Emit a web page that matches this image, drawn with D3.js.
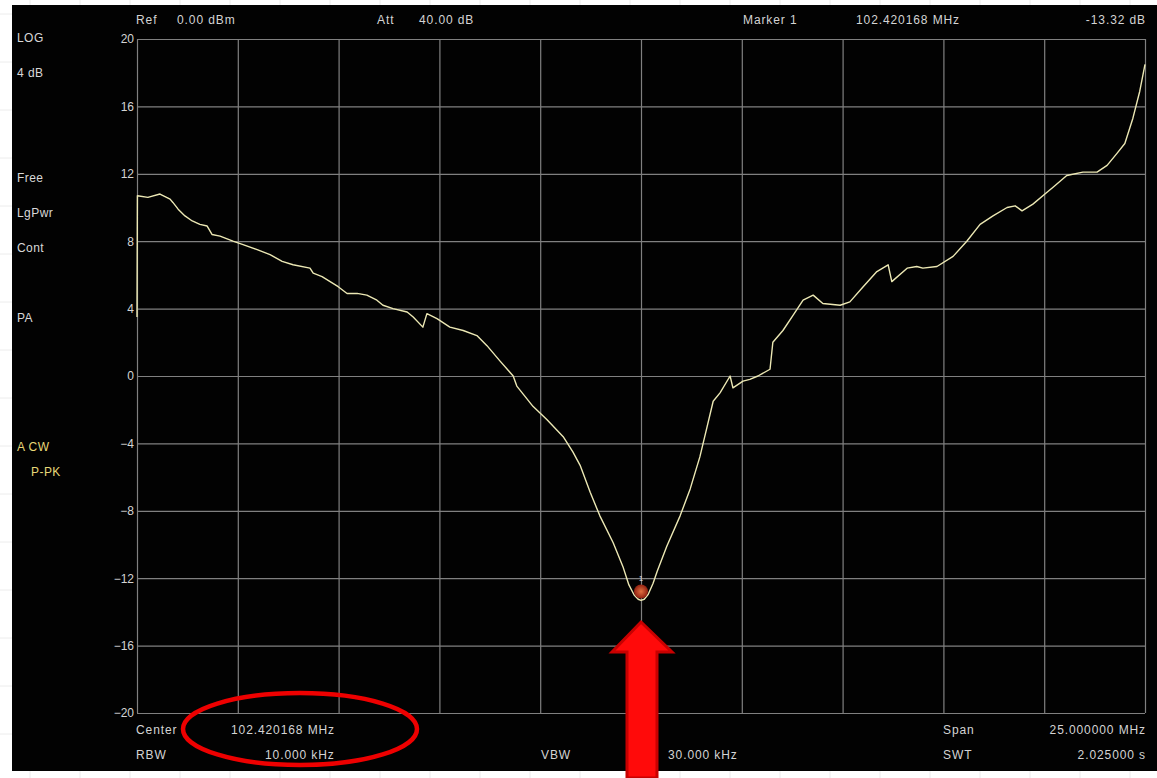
<!DOCTYPE html>
<html>
<head>
<meta charset="utf-8">
<script src="https://cdn.jsdelivr.net/npm/d3@7/dist/d3.min.js"></script>
<style>
  html, body { margin: 0; padding: 0; background: #ffffff; }
  svg { display: block; }
  text { font-family: "Liberation Sans", "DejaVu Sans", sans-serif; }
</style>
</head>
<body>
<svg id="chart" width="1157" height="778"></svg>
<script>
// Sweep settings
const centerMHz = 102.420168;
const spanMHz = 25.0;
const markerDb = -13.32;

// Trace: frequency offset from center (MHz) and level (dB)
const freqOffset = [
  -12.50, -12.49, -12.23, -11.93, -11.68, -11.61, -11.48, -11.31, -11.13, -10.94,
  -10.76, -10.64, -10.44, -10.12, -9.87, -9.52, -9.20, -8.90, -8.63, -8.21,
  -8.13, -7.91, -7.64, -7.51, -7.29, -7.04, -6.80, -6.55, -6.40, -6.15,
  -5.80, -5.65, -5.41, -5.31, -5.06, -4.74, -4.41, -4.07, -3.82, -3.50,
  -3.17, -3.08, -2.68, -2.33, -1.93, -1.69, -1.51, -1.26, -1.02, -0.69,
  -0.45, -0.30, -0.17, -0.07, 0.00, 0.08, 0.18, 0.30, 0.40, 0.64,
  0.97, 1.22, 1.46, 1.64,
  1.79, 1.96, 2.21, 2.28, 2.53, 2.70, 2.90, 3.20, 3.27, 3.52,
  3.77, 4.02, 4.27, 4.51, 4.94, 5.18, 5.51, 5.85, 6.13, 6.22,
  6.60, 6.84, 6.99, 7.34, 7.74, 8.08, 8.41, 8.73, 9.08, 9.28,
  9.45, 9.72, 10.07, 10.22, 10.56, 10.96, 11.31, 11.56, 11.80, 12.00,
  12.20, 12.37, 12.50
];
const traceDb = [
  3.5, 10.7, 10.6, 10.8, 10.5, 10.3, 9.9, 9.5, 9.2, 9.0,
  8.9, 8.4, 8.3, 8.0, 7.8, 7.5, 7.2, 6.8, 6.6, 6.4,
  6.1, 5.9, 5.5, 5.3, 4.9, 4.9, 4.8, 4.5, 4.2, 4.0,
  3.8, 3.5, 2.9, 3.7, 3.4, 2.9, 2.7, 2.4, 1.8, 0.9,
  0.0, -0.6, -1.8, -2.6, -3.6, -4.5, -5.3, -6.9, -8.3, -9.9,
  -11.3, -12.4, -13.0, -13.25, -13.32, -13.25, -12.95, -12.3, -11.6, -10.1,
  -8.3, -6.7, -4.8, -3.0,
  -1.5, -1.0, 0.0, -0.7, -0.3, -0.2, 0.0, 0.4, 2.0, 2.7,
  3.6, 4.5, 4.8, 4.3, 4.2, 4.4, 5.3, 6.2, 6.6, 5.6,
  6.4, 6.5, 6.4, 6.5, 7.1, 8.0, 9.0, 9.5, 10.0, 10.1,
  9.8, 10.2, 10.9, 11.2, 11.9, 12.1, 12.1, 12.5, 13.2, 13.8,
  15.3, 16.9, 18.5
];

// Axis ticks
const yTicks = [20, 16, 12, 8, 4, 0, -4, -8, -12, -16, -20];
const xDivisions = [-12.5, -10, -7.5, -5, -2.5, 0, 2.5, 5, 7.5, 10, 12.5];

// Instrument readouts
const headerLabels = [
  { text: "Ref", x: 136, anchor: "start" },
  { text: "0.00 dBm", x: 177, anchor: "start" },
  { text: "Att", x: 377, anchor: "start" },
  { text: "40.00 dB", x: 419, anchor: "start" },
  { text: "Marker 1", x: 743, anchor: "start" },
  { text: "102.420168 MHz", x: 856, anchor: "start" },
  { text: "-13.32 dB", x: 1146, anchor: "end" }
];
const sideLabels = [
  { text: "LOG", x: 17, y: 38, color: "#d8d8d8" },
  { text: "4 dB", x: 17, y: 73, color: "#d8d8d8" },
  { text: "Free", x: 17, y: 178, color: "#d8d8d8" },
  { text: "LgPwr", x: 17, y: 213, color: "#d8d8d8" },
  { text: "Cont", x: 17, y: 248, color: "#d8d8d8" },
  { text: "PA", x: 17, y: 318, color: "#d8d8d8" },
  { text: "A CW", x: 17, y: 447, color: "#e8d878" },
  { text: "P-PK", x: 31, y: 472, color: "#e8d878" }
];
const footerLabels = [
  { text: "Center", x: 136, y: 730, anchor: "start" },
  { text: "102.420168 MHz", x: 231, y: 730, anchor: "start" },
  { text: "RBW", x: 136, y: 755, anchor: "start" },
  { text: "10.000 kHz", x: 265, y: 755, anchor: "start" },
  { text: "VBW", x: 541, y: 755, anchor: "start" },
  { text: "30.000 kHz", x: 668, y: 755, anchor: "start" },
  { text: "Span", x: 943, y: 730, anchor: "start" },
  { text: "25.000000 MHz", x: 1146, y: 730, anchor: "end" },
  { text: "SWT", x: 943, y: 755, anchor: "start" },
  { text: "2.025000 s", x: 1146, y: 755, anchor: "end" }
];

const svg = d3.select("#chart");
const W = 1157, H = 778;
const plot = { left: 137, right: 1145, top: 39, bottom: 713 };
const FONT = 12, SPACING = 0.9;

// Sheet backdrop with faint cell borders
const sheet = svg.append("g");
sheet.append("rect").attr("width", W).attr("height", H).attr("fill", "#ffffff");
sheet.selectAll("line.v").data(d3.range(30, W, 50)).join("line")
  .attr("x1", d => d).attr("x2", d => d).attr("y1", 0).attr("y2", H)
  .attr("stroke", "#ececec").attr("stroke-width", 1);
sheet.selectAll("line.h").data(d3.range(14, H, 48)).join("line")
  .attr("y1", d => d).attr("y2", d => d).attr("x1", 0).attr("x2", W)
  .attr("stroke", "#ececec").attr("stroke-width", 1);

// Instrument screen
svg.append("rect").attr("x", 12).attr("y", 5).attr("width", W - 12).attr("height", 766)
  .attr("fill", "#020202");

const x = d3.scaleLinear().domain([-spanMHz / 2, spanMHz / 2]).range([plot.left, plot.right]);
const y = d3.scaleLinear().domain([-20, 20]).range([plot.bottom, plot.top]);

// Horizontal grid + dB labels
const yAxis = d3.axisLeft(y).tickValues(yTicks)
  .tickSize(-(plot.right - plot.left)).tickPadding(3).tickFormat(d3.format("d"));
const gy = svg.append("g").attr("transform", `translate(${plot.left},0)`).call(yAxis);
gy.select(".domain").remove();
gy.selectAll(".tick line").attr("stroke", "#808080").attr("stroke-width", 1.2);
gy.selectAll(".tick text").attr("fill", "#d4d4d4").attr("font-size", FONT)
  .attr("x", -3);

// Vertical grid
const xAxis = d3.axisBottom(x).tickValues(xDivisions)
  .tickSize(-(plot.bottom - plot.top)).tickFormat("");
const gx = svg.append("g").attr("transform", `translate(0,${plot.bottom})`).call(xAxis);
gx.select(".domain").remove();
gx.selectAll(".tick line").attr("stroke", "#808080").attr("stroke-width", 1.2);

// Trace
const points = freqOffset.map((f, i) => [f, traceDb[i]]);
const line = d3.line().x(d => x(d[0])).y(d => y(d[1]));
svg.append("path").datum(points)
  .attr("d", line)
  .attr("fill", "none")
  .attr("stroke", "#ece8b4")
  .attr("stroke-width", 1.4)
  .attr("stroke-linejoin", "round");

// Marker 1 at the minimum
const mx = x(0), my = y(markerDb);
const grad = svg.append("defs").append("radialGradient").attr("id", "mk");
grad.append("stop").attr("offset", "0%").attr("stop-color", "#e07040");
grad.append("stop").attr("offset", "100%").attr("stop-color", "#902010");
svg.append("circle").attr("cx", mx).attr("cy", my - 9).attr("r", 7)
  .attr("fill", "url(#mk)");
svg.append("text").attr("x", mx).attr("y", my - 19).attr("text-anchor", "middle")
  .attr("fill", "#e0e0e0").attr("font-size", 8).text("1");

// Readouts
svg.append("g").selectAll("text").data(headerLabels).join("text")
  .attr("x", d => d.x).attr("y", 24).attr("text-anchor", d => d.anchor)
  .attr("letter-spacing", SPACING)
  .attr("fill", "#d4d4d4").attr("font-size", FONT).text(d => d.text);
svg.append("g").selectAll("text").data(sideLabels).join("text")
  .attr("x", d => d.x).attr("y", d => d.y + 4)
  .attr("letter-spacing", SPACING * 0.5)
  .attr("fill", d => d.color).attr("font-size", FONT).text(d => d.text);
svg.append("g").selectAll("text").data(footerLabels).join("text")
  .attr("x", d => d.x).attr("y", d => d.y + 4).attr("text-anchor", d => d.anchor)
  .attr("letter-spacing", SPACING)
  .attr("fill", "#d4d4d4").attr("font-size", FONT).text(d => d.text);

// Highlight around the center frequency readout
svg.append("ellipse").attr("cx", 300).attr("cy", 729).attr("rx", 117).attr("ry", 36)
  .attr("fill", "none").attr("stroke", "#ee0000").attr("stroke-width", 4.5);

// Arrow pointing at the marker
const arrow = [
  [mx, 622], [mx + 31, 652], [mx + 16, 652], [mx + 16, 778],
  [mx - 14, 778], [mx - 14, 652], [mx - 29, 652]
];
svg.append("polygon").attr("points", arrow.map(p => p.join(",")).join(" "))
  .attr("fill", "#ff0a0a").attr("stroke", "#c80000").attr("stroke-width", 3)
  .attr("stroke-linejoin", "miter");
</script>
</body>
</html>
